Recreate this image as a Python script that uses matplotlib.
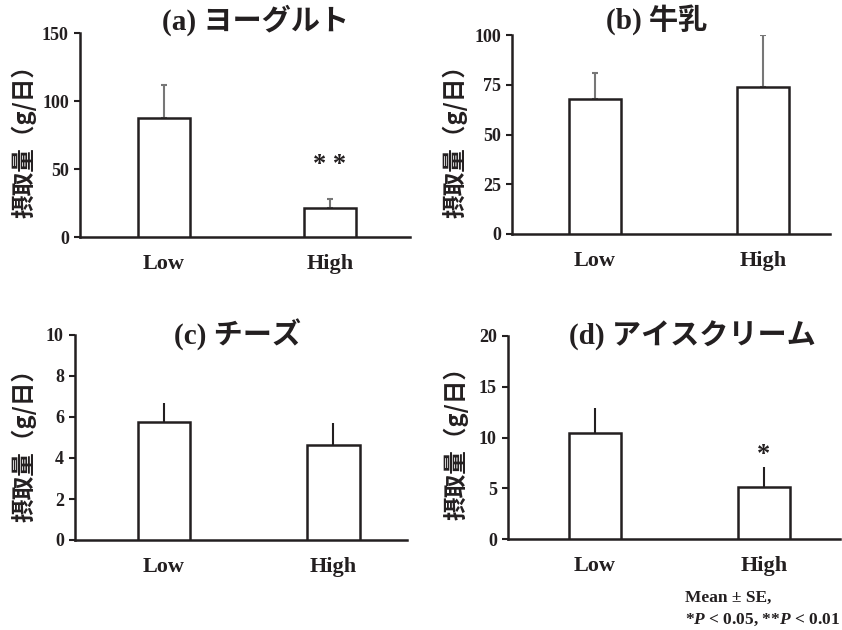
import matplotlib
matplotlib.use("Agg")
import matplotlib.pyplot as plt

plt.rcParams['font.family'] = ['Liberation Serif', 'Noto Sans CJK JP']
plt.rcParams['font.weight'] = 'bold'
plt.rcParams['mathtext.fontset'] = 'custom'
plt.rcParams['mathtext.rm'] = 'Liberation Serif:bold'
plt.rcParams['mathtext.it'] = 'Liberation Serif:italic:bold'

groups = ["Low", "High"]
titles = ["(a) ヨーグルト", "(b) 牛乳", "(c) チーズ", "(d) アイスクリーム"]
means = [[87.5, 21.5], [67.7, 74.0], [5.76, 4.63], [10.4, 5.15]]
errs = [[24.3, 6.7], [13.4, 26.0], [0.94, 1.09], [2.5, 1.9]]
ymax = [150, 100, 10, 20]
ystep = [50, 25, 2, 5]
marks = [["", "* *"], ["", ""], ["", ""], ["", "*"]]
mark_y = [[0, 53], [0, 0], [0, 0], [0, 8.3]]
err_color = ['#777777', '#777777', '#231f20', '#231f20']

W, H = 842, 630
# axes boxes in pixels: left, top, right, bottom
boxes = [(80, 33, 410, 237), (512, 35, 830, 234), (75, 335, 407, 540), (508, 336, 840, 539)]
xlims = [(-0.506, 1.482), (-0.494, 1.399), (-0.525, 1.434), (-0.515, 1.45)]
title_xy = [(255, 20), (657, 20), (237, 335), (692, 336)]
ylab_xy = [(24, 136), (455, 135), (24, 439), (456, 437)]

fig = plt.figure(figsize=(W / 100, H / 100), dpi=100)
dark = '#231f20'

for i in range(4):
    l, t, r, b = boxes[i]
    ax = fig.add_axes([l / W, 1 - b / H, (r - l) / W, (b - t) / H])
    x = [0, 1]
    ax.bar(x, means[i], width=0.31, color='white', edgecolor=dark, linewidth=1.8, zorder=3)
    ax.errorbar(x, means[i], yerr=[[0, 0], errs[i]], fmt='none', ecolor=err_color[i],
                elinewidth=1.5, capsize=2.5 if i < 2 else 0, capthick=1.5, zorder=2)
    for j in range(2):
        if marks[i][j]:
            ax.text(x[j], mark_y[i][j], marks[i][j], ha='center', va='center',
                    fontsize=19, color=dark)
    ax.set_xlim(*xlims[i])
    ax.set_ylim(0, ymax[i])
    ax.set_yticks(range(0, ymax[i] + 1, ystep[i]))
    ax.set_xticks(x)
    ax.set_xticklabels(groups, fontsize=16, fontweight='bold')
    ax.tick_params(axis='x', length=0, pad=12, colors=dark)
    ax.tick_params(axis='y', length=4, width=1.5, pad=4, labelsize=13, colors=dark)
    for lab in ax.get_yticklabels():
        lab.set_fontweight('bold')
    for s in ['top', 'right']:
        ax.spines[s].set_visible(False)
    for s in ['left', 'bottom']:
        ax.spines[s].set_linewidth(1.8)
        ax.spines[s].set_color(dark)
    ax.patch.set_visible(False)

    tx, ty = title_xy[i]
    fig.text(tx / W, 1 - ty / H, titles[i], ha='center', va='center', fontsize=21,
             fontweight='bold', color=dark)
    lx, ly = ylab_xy[i]
    fig.text(lx / W, 1 - ly / H, "摂取量（g/日）", rotation=90, ha='center', va='center',
             fontsize=17, fontweight='bold', color=dark,
             family=['Noto Sans CJK JP'])

fig.text(685 / W, 1 - 598 / H, "Mean ± SE,", ha='left', va='center', fontsize=12.5,
         fontweight='bold', color=dark)
fig.text(685 / W, 1 - 620 / H, r"*$P$ < 0.05, **$P$ < 0.01", ha='left', va='center',
         fontsize=12.5, fontweight='bold', color=dark)

fig.savefig("out.png", dpi=100)
